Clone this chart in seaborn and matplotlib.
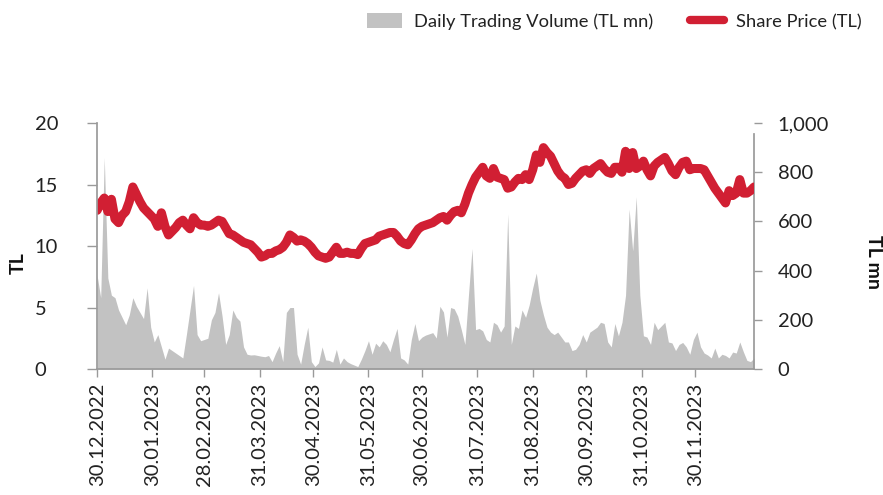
import numpy as np
import pandas as pd
import matplotlib
matplotlib.use("Agg")
import matplotlib.pyplot as plt
import matplotlib.dates as mdates
from matplotlib.lines import Line2D
from matplotlib.patches import Patch
from matplotlib.ticker import FuncFormatter
import seaborn as sns

# Observations every second calendar day, starting 30.12.2022
start_date = "2022-12-30"

share_price_tl = [
    12.9, 13.5, 13.9, 12.8, 13.8, 12.2, 11.9, 12.5, 12.8, 13.6,
    14.8, 14.2, 13.6, 13.1, 12.8, 12.5, 12.2, 11.6, 12.7, 11.6,
    10.9, 11.2, 11.5, 11.9, 12.1, 11.7, 11.4, 12.3, 11.9, 11.7,
    11.7, 11.6, 11.7, 11.9, 12.1, 12.0, 11.5, 11.0, 10.9, 10.7,
    10.5, 10.3, 10.2, 10.1, 9.8, 9.5, 9.1, 9.2, 9.4, 9.4,
    9.6, 9.7, 9.9, 10.3, 10.9, 10.7, 10.4, 10.5, 10.4, 10.2,
    9.9, 9.5, 9.2, 9.1, 9.0, 9.1, 9.5, 9.9, 9.4, 9.4,
    9.5, 9.4, 9.4, 9.3, 9.8, 10.2, 10.3, 10.4, 10.5, 10.8,
    10.9, 11.0, 11.1, 11.1, 10.8, 10.4, 10.2, 10.1, 10.5, 11.0,
    11.4, 11.6, 11.7, 11.8, 11.9, 12.1, 12.3, 12.4, 12.1, 12.5,
    12.8, 12.9, 12.7, 13.4, 14.3, 15.0, 15.6, 16.0, 16.4, 15.7,
    15.5, 16.3, 15.6, 15.5, 15.4, 14.7, 14.8, 15.2, 15.5, 15.4,
    15.8, 15.4, 16.2, 17.4, 16.8, 18.0, 17.6, 17.3, 16.7, 16.1,
    15.7, 15.5, 15.0, 15.1, 15.5, 15.8, 16.1, 16.2, 15.9, 16.3,
    16.5, 16.7, 16.3, 16.0, 15.9, 16.4, 16.4, 16.0, 17.7, 16.3,
    17.6, 16.3, 16.5, 16.9, 16.2, 15.7, 16.5, 16.8, 17.0, 17.2,
    16.7, 16.1, 15.8, 16.4, 16.8, 16.9, 16.2, 16.3, 16.3, 16.3,
    16.2, 15.7, 15.2, 14.7, 14.3, 13.9, 13.5, 14.5, 14.1, 14.3,
    15.4, 14.3, 14.3, 14.5, 14.8,
]

daily_volume_tl_mn = [
    380, 290, 860, 370, 300, 290, 240, 210, 180, 220,
    290, 255, 230, 205, 330, 170, 110, 140, 90, 40,
    85, 75, 65, 55, 45, 140, 240, 340, 140, 115,
    120, 125, 200, 230, 310, 215, 100, 140, 240, 210,
    195, 90, 60, 57, 58, 55, 52, 50, 55, 30,
    65, 95, 30, 230, 250, 250, 60, 20, 100, 170,
    30, 10, 25, 90, 37, 35, 28, 80, 20, 45,
    30, 22, 16, 10, 40, 75, 115, 60, 105, 90,
    115, 100, 70, 120, 165, 45, 37, 20, 120, 185,
    115, 130, 138, 143, 148, 126, 255, 232, 130, 250,
    245, 215, 160, 100, 300, 490, 160, 165, 155, 120,
    110, 190, 180, 150, 175, 630, 100, 175, 165, 240,
    210, 260, 330, 390, 280, 220, 170, 150, 140, 150,
    130, 110, 110, 75, 80, 100, 140, 110, 150, 160,
    170, 190, 185, 110, 90, 185, 135, 190, 300, 650,
    480, 700, 300, 135, 130, 100, 190, 160, 175, 190,
    110, 106, 75, 100, 108, 90, 60, 120, 150, 90,
    65, 57, 45, 85, 45, 60, 55, 45, 69, 65,
    110, 70, 35, 30, 45,
]

tick_dates = [
    "30.12.2022", "30.01.2023", "28.02.2023", "31.03.2023", "30.04.2023",
    "31.05.2023", "30.06.2023", "31.07.2023", "31.08.2023", "30.09.2023",
    "31.10.2023", "30.11.2023",
]

price_ticks = [0, 5, 10, 15, 20]
volume_ticks = [0, 200, 400, 600, 800, 1000]

PRICE_COLOR = "#d11f33"
VOLUME_COLOR = "#c2c2c2"
AXIS_GREY = "#9a9a9a"
TEXT_COLOR = "#222222"

dates = pd.date_range(start_date, periods=len(share_price_tl), freq="2D")
df = pd.DataFrame({
    "date": dates,
    "price": share_price_tl,
    "volume": daily_volume_tl_mn,
})

sns.set_theme(style="white")
plt.rcParams["font.family"] = ["Lato", "DejaVu Sans"]

fig = plt.figure(figsize=(8.83, 4.95), dpi=100)
ax = fig.add_axes([0.110, 0.2545, 0.744, 0.497])
ax_vol = ax.twinx()

# volume area on the secondary axis, price line on top
ax_vol.fill_between(df["date"], 0, df["volume"], color=VOLUME_COLOR,
                    linewidth=0)
sns.lineplot(data=df, x="date", y="price", ax=ax, color=PRICE_COLOR,
             linewidth=6.5, solid_capstyle="round", solid_joinstyle="round")

ax.set_zorder(ax_vol.get_zorder() + 1)
ax.patch.set_visible(False)

ax.set_xlim(df["date"].iloc[0], df["date"].iloc[-1])
ax.set_ylim(price_ticks[0], price_ticks[-1])
ax_vol.set_ylim(volume_ticks[0], volume_ticks[-1])
ax.set_yticks(price_ticks)
ax_vol.set_yticks(volume_ticks)
ax_vol.yaxis.set_major_formatter(FuncFormatter(lambda v, p: f"{v:,.0f}"))

tick_pos = pd.to_datetime(tick_dates, format="%d.%m.%Y")
ax.set_xticks(tick_pos)
ax.set_xticklabels(tick_dates, rotation=90)

for a in (ax, ax_vol):
    a.spines["top"].set_visible(False)
    a.grid(False)
ax.spines["right"].set_visible(False)
ax_vol.spines["left"].set_visible(False)
ax_vol.spines["bottom"].set_visible(False)
ax.spines["left"].set_color(AXIS_GREY)
ax.spines["bottom"].set_color(AXIS_GREY)
ax_vol.spines["right"].set_color(AXIS_GREY)
ax_vol.spines["right"].set_bounds(0, 955)

ax.tick_params(axis="x", which="major", direction="out", length=6,
               width=1, color=AXIS_GREY, labelsize=14.5,
               labelcolor=TEXT_COLOR, pad=4, bottom=True)
ax.tick_params(axis="y", which="major", direction="out", length=7,
               width=1, color=AXIS_GREY, labelsize=14.5,
               labelcolor=TEXT_COLOR, pad=38, left=True)
for lab in ax.get_yticklabels():
    lab.set_horizontalalignment("left")
ax_vol.tick_params(axis="y", direction="out", length=6, width=1,
                   color=AXIS_GREY, labelsize=14.5, labelcolor=TEXT_COLOR,
                   pad=11, right=True)

ax.set_xlabel("")
ax.set_ylabel("")
ax_vol.set_ylabel("")
fig.text(18 / 883, 1 - 263 / 495, "TL", rotation=90, fontsize=14,
         fontweight="bold", color="#111111", ha="center", va="center")
fig.text(873 / 883, 1 - 262 / 495, "TL mn", rotation=-90, fontsize=14,
         fontweight="bold", color="#111111", ha="center", va="center")

handles = [
    Patch(facecolor=VOLUME_COLOR, edgecolor="none"),
    Line2D([0], [0], color=PRICE_COLOR, linewidth=6, solid_capstyle="round"),
]
fig.legend(handles, ["Daily Trading Volume (TL mn)", "Share Price (TL)"],
           loc="upper right", bbox_to_anchor=(0.995, 1.007), ncol=2,
           frameon=False, fontsize=13.2, handlelength=1.9, handleheight=0.9,
           columnspacing=2.0, handletextpad=0.65,
           labelcolor=TEXT_COLOR)

fig.savefig("out.png", dpi=100)
